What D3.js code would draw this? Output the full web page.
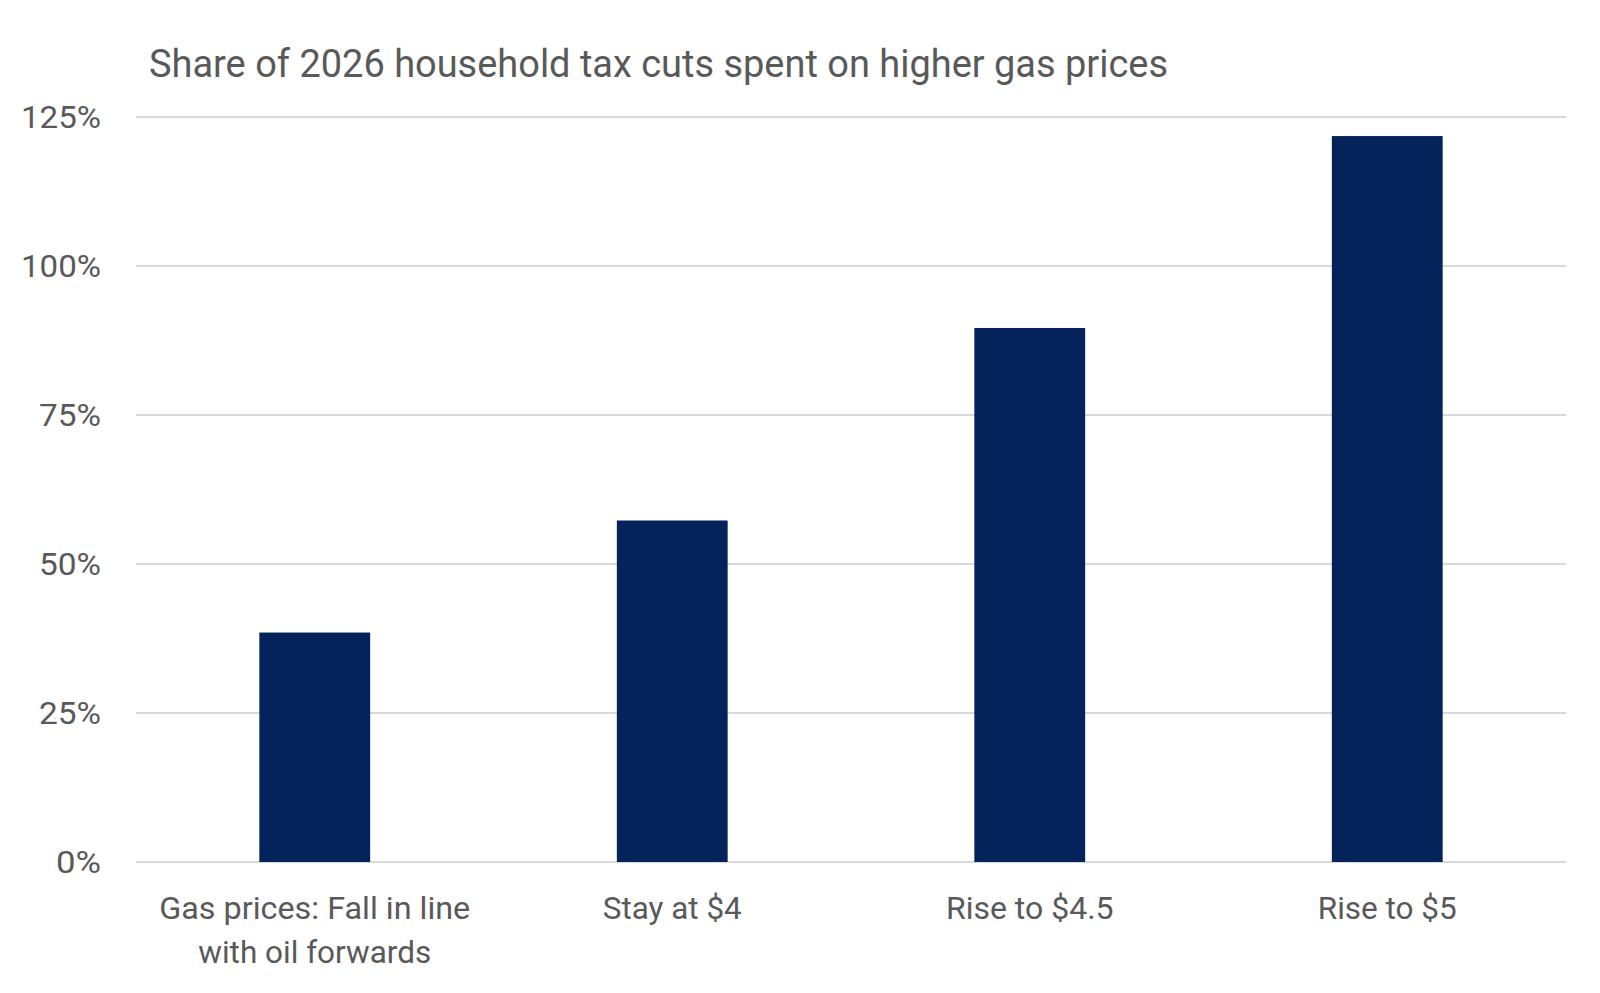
<!DOCTYPE html>
<html><head><meta charset="utf-8">
<script src="https://cdn.jsdelivr.net/npm/d3@7"></script>
<style>body{margin:0;background:#fff}svg{display:block}</style>
</head><body>
<svg id="c" width="1600" height="993"></svg>
<script>
const title = "Share of 2026 household tax cuts spent on higher gas prices";
const categories = [["Gas prices: Fall in line","with oil forwards"],["Stay at $4"],["Rise to $4.5"],["Rise to $5"]];
const values = [38.5, 57.3, 89.6, 121.8];
const yTicks = [0, 25, 50, 75, 100, 125];

const svg = d3.select("#c");
const W = 1600, H = 993;
const m = {left:136, right:34, top:117, bottom:131};
const x = d3.scaleBand().domain(d3.range(categories.length)).range([m.left, W-m.right]).paddingInner(0.69).paddingOuter(0.345);
const y = d3.scaleLinear().domain([0,125]).range([H-m.bottom, m.top]);
const font = "'Liberation Sans Narrow','Roboto','Liberation Sans',sans-serif";
const grey = "#595959";

function fit(sel, target){
  sel.each(function(){
    const l = this.getComputedTextLength();
    if (Math.abs(l-target) > 2) { this.setAttribute("textLength", target); this.setAttribute("lengthAdjust","spacingAndGlyphs"); }
  });
}

// gridlines
svg.append("g").selectAll("line").data(yTicks).join("line")
  .attr("x1", m.left).attr("x2", W-m.right)
  .attr("y1", d=>y(d)).attr("y2", d=>y(d))
  .attr("stroke", "#d9d9d9").attr("stroke-width", 2);

// y labels
const yl = svg.append("g").selectAll("text").data(yTicks).join("text")
  .attr("x", 101).attr("y", d=>y(d)).attr("dy","0.34em")
  .attr("text-anchor","end").attr("fill", grey)
  .style("font-family", font).style("font-size","32px")
  .text(d=>d+"%");
yl.each(function(d){ fit(d3.select(this), d>=100 ? 80 : (d>0 ? 62 : 45)); });

// bars
svg.append("g").selectAll("rect").data(values).join("rect")
  .attr("x",(d,i)=>x(i)).attr("width", x.bandwidth())
  .attr("y", d=>y(d)).attr("height", d=>y(0)-y(d))
  .attr("fill","#03235a");

// x labels
const xl = svg.append("g").selectAll("g").data(categories).join("g")
  .attr("transform",(d,i)=>`translate(${x(i)+x.bandwidth()/2},0)`);
const xWidths = [[311, 233],[139],[166],[139]];
xl.each(function(lines, i){
  const g = d3.select(this);
  lines.forEach((t,j)=>{
    const tx = g.append("text").attr("x",0).attr("y", 919 + j*44)
      .attr("text-anchor","middle").attr("fill",grey)
      .style("font-family",font).style("font-size","32px").text(t);
    fit(tx, xWidths[i][j]);
  });
});

// title
const tt = svg.append("text").attr("x",149).attr("y",77).attr("fill",grey)
  .style("font-family",font).style("font-size","39px").text(title);
fit(tt, 1019);
</script>
</body></html>
